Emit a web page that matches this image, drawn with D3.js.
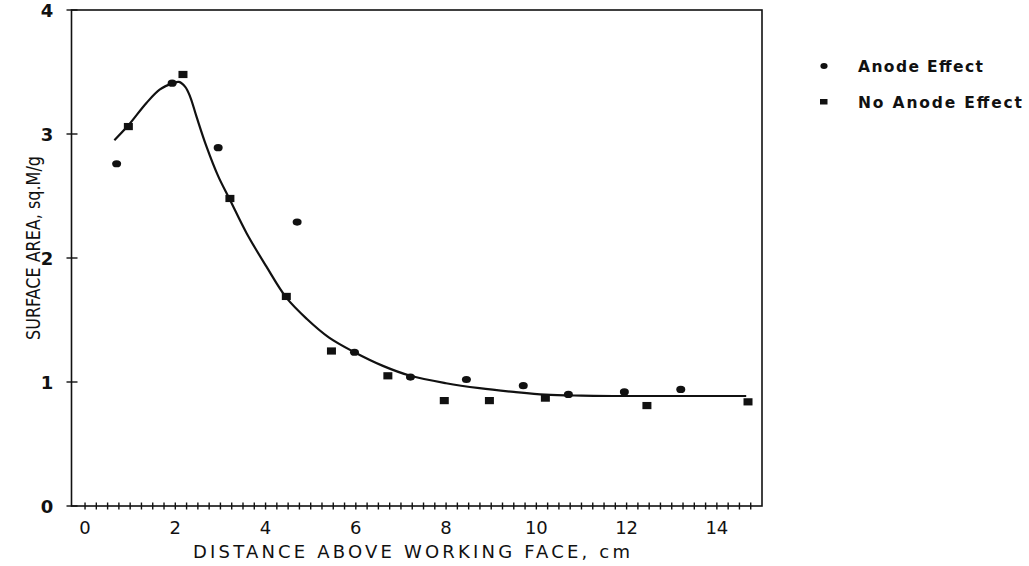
<!DOCTYPE html>
<html>
<head>
<meta charset="utf-8">
<script src="https://cdn.jsdelivr.net/npm/d3@7"></script>
<style>
  html, body { margin: 0; padding: 0; background: #fff; }
  svg { display: block; }
</style>
</head>
<body>
<svg id="chart" width="1029" height="566"></svg>
<script>
// Surface area measurements against distance above the working face
const anodeX   = [0.70, 1.93, 2.95, 4.70, 5.97, 7.21, 8.45, 9.71, 10.71, 11.95, 13.20];
const anodeY   = [2.76, 3.41, 2.89, 2.29, 1.24, 1.04, 1.02, 0.97, 0.90, 0.92, 0.94];
const noAnodeX = [0.96, 2.17, 3.21, 4.46, 5.46, 6.71, 7.96, 8.96, 10.20, 12.45, 14.69];
const noAnodeY = [3.06, 3.48, 2.48, 1.69, 1.25, 1.05, 0.85, 0.85, 0.87, 0.81, 0.84];

// Smoothed trend line through both series
const fitX = [0.65, 0.96, 1.36, 1.66, 1.95, 2.08, 2.22, 2.33, 2.47, 2.69, 2.95, 3.21, 3.58, 4.02, 4.46, 4.91, 5.40, 5.97, 6.60, 7.21, 8.00, 8.74, 9.50, 10.2, 11.0, 11.7, 13.0, 14.65];
const fitY = [2.95, 3.07, 3.25, 3.36, 3.41, 3.42, 3.38, 3.30, 3.14, 2.90, 2.66, 2.47, 2.20, 1.93, 1.68, 1.51, 1.36, 1.24, 1.13, 1.05, 0.99, 0.95, 0.92, 0.898, 0.890, 0.887, 0.887, 0.887];

const xTickLabels = [0, 2, 4, 6, 8, 10, 12, 14];
const yTickLabels = [0, 1, 2, 3, 4];
const seriesNames = ["Anode Effect", "No Anode Effect"];

const svg = d3.select("#chart");
const x = d3.scaleLinear().domain([-0.3, 15]).range([71.5, 762]);
const y = d3.scaleLinear().domain([0, 4]).range([506, 10]);

const ink = "#111";

// frame
svg.append("rect")
  .attr("x", x(-0.3)).attr("y", y(4))
  .attr("width", x(15) - x(-0.3)).attr("height", y(0) - y(4))
  .attr("fill", "none").attr("stroke", ink).attr("stroke-width", 1.6);

// x axis: crossing minor ticks every 0.25
const minorX = d3.range(0, 60).map(i => i * 0.25);
svg.append("g").selectAll("line").data(minorX).join("line")
  .attr("x1", d => x(d)).attr("x2", d => x(d))
  .attr("y1", y(0) - 3.5).attr("y2", y(0) + 3.5)
  .attr("stroke", ink).attr("stroke-width", 1.4);

svg.append("g").selectAll("text").data(xTickLabels).join("text")
  .attr("x", d => x(d)).attr("y", 534)
  .attr("text-anchor", "middle")
  .attr("font-family", "DejaVu Sans, sans-serif")
  .attr("font-size", 18)
  .attr("fill", ink)
  .text(d => d);

// y axis ticks crossing the axis
svg.append("g").selectAll("line").data(yTickLabels).join("line")
  .attr("x1", x(-0.3) - 5).attr("x2", x(-0.3) + 6)
  .attr("y1", d => y(d)).attr("y2", d => y(d))
  .attr("stroke", ink).attr("stroke-width", 1.4);

svg.append("g").selectAll("text").data(yTickLabels).join("text")
  .attr("x", 47).attr("y", d => y(d) + 6.5)
  .attr("text-anchor", "middle")
  .attr("font-family", "DejaVu Sans, sans-serif")
  .attr("font-weight", "bold")
  .attr("font-size", 18)
  .attr("fill", ink)
  .text(d => d);

// axis titles
svg.append("text")
  .attr("x", 193).attr("y", 558)
  .attr("font-family", "DejaVu Sans, sans-serif")
  .attr("font-size", 18)
  .attr("textLength", 437).attr("lengthAdjust", "spacing")
  .attr("fill", ink)
  .text("DISTANCE ABOVE WORKING FACE, cm");

svg.append("text")
  .attr("transform", "translate(40,340) rotate(-90)")
  .attr("font-family", "Liberation Sans Narrow, DejaVu Sans Condensed, sans-serif")
  .attr("font-size", 20)
  .attr("textLength", 184).attr("lengthAdjust", "spacingAndGlyphs")
  .attr("fill", ink)
  .text("SURFACE AREA, sq.M/g");

// trend line
const fit = fitX.map((v, i) => [v, fitY[i]]);
svg.append("path")
  .datum(fit)
  .attr("d", d3.line().x(d => x(d[0])).y(d => y(d[1])).curve(d3.curveCatmullRom.alpha(0.5)))
  .attr("fill", "none").attr("stroke", ink).attr("stroke-width", 2.2);

// markers
const anode = anodeX.map((v, i) => [v, anodeY[i]]);
const noAnode = noAnodeX.map((v, i) => [v, noAnodeY[i]]);

svg.append("g").selectAll("ellipse").data(anode).join("ellipse")
  .attr("cx", d => x(d[0])).attr("cy", d => y(d[1]))
  .attr("rx", 4.5).attr("ry", 3.6)
  .attr("fill", ink);

svg.append("g").selectAll("rect").data(noAnode).join("rect")
  .attr("x", d => x(d[0]) - 4.5).attr("y", d => y(d[1]) - 3.6)
  .attr("width", 9).attr("height", 7.2)
  .attr("fill", ink);

// legend
const legend = svg.append("g");
legend.append("ellipse").attr("cx", 824).attr("cy", 66).attr("rx", 3.6).attr("ry", 3).attr("fill", ink);
legend.append("rect").attr("x", 820).attr("y", 99).attr("width", 7.5).attr("height", 5.5).attr("fill", ink);
legend.append("text")
  .attr("x", 858).attr("y", 71.5)
  .attr("font-family", "DejaVu Sans, sans-serif").attr("font-weight", "bold")
  .attr("font-size", 15.5)
  .attr("textLength", 125).attr("lengthAdjust", "spacing")
  .attr("fill", ink)
  .text(seriesNames[0]);
legend.append("text")
  .attr("x", 858).attr("y", 107.5)
  .attr("font-family", "DejaVu Sans, sans-serif").attr("font-weight", "bold")
  .attr("font-size", 15.5)
  .attr("textLength", 164).attr("lengthAdjust", "spacing")
  .attr("fill", ink)
  .text(seriesNames[1]);
</script>
</body>
</html>
